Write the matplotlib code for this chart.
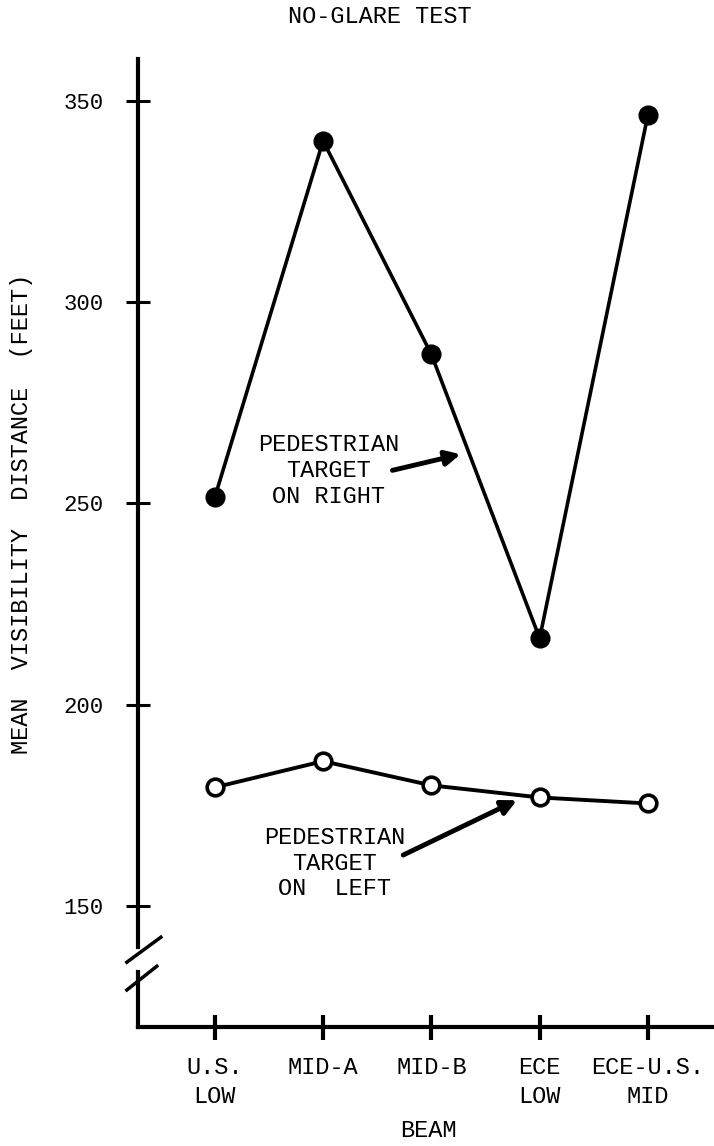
import matplotlib
matplotlib.use("Agg")
import matplotlib.pyplot as plt

plt.rcParams['font.family'] = ['Liberation Mono', 'DejaVu Sans Mono']

# data
beams = ["U.S.\nLOW", "MID-A", "MID-B", "ECE\nLOW", "ECE-U.S.\nMID"]
right_target = [251.5, 340, 287, 216.5, 346.5]
left_target = [179.5, 186, 180, 177, 175.5]
y_ticks = [150, 200, 250, 300, 350]

x = list(range(len(beams)))

fig = plt.figure(figsize=(7.14, 11.46), dpi=100)
ax = fig.add_axes([0.193, 0.1038, 0.807, 0.845])

# pedestrian on right (filled)
ax.plot(x, right_target, color="black", lw=2.6, marker="o", ms=13.5,
        mfc="black", mec="black", zorder=3)
# pedestrian on left (open)
ax.plot(x, left_target, color="black", lw=2.8, marker="o", ms=12,
        mfc="white", mec="black", mew=2.6, zorder=3)

ax.set_xlim(-0.711, 4.61)
ax.set_ylim(120, 360.4)

ax.set_xticks(x)
ax.set_xticklabels(beams, fontsize=17, linespacing=1.3)
ax.set_yticks(y_ticks)
ax.set_yticklabels([str(v) for v in y_ticks], fontsize=16)
ax.tick_params(axis="y", direction="inout", length=17, width=2.2, pad=16)
ax.tick_params(axis="x", direction="inout", length=18, width=3, pad=12)

for s in ["top", "right", "left"]:
    ax.spines[s].set_visible(False)
ax.spines["bottom"].set_linewidth(3)

# left axis with a break near the bottom
tr = ax.get_yaxis_transform()
ax.plot([0, 0], [139.8, 360.4], color="black", lw=3, transform=tr, clip_on=False)
ax.plot([0, 0], [120, 133.6], color="black", lw=3, transform=tr, clip_on=False)
ax.plot([-0.019, 0.04], [136.1, 142.3], color="black", lw=2.5, transform=tr, clip_on=False)
ax.plot([-0.019, 0.033], [129.2, 135.1], color="black", lw=2.5, transform=tr, clip_on=False)

ax.set_ylabel("MEAN  VISIBILITY  DISTANCE  (FEET)", fontsize=17)
ax.yaxis.set_label_coords(-0.182, 0.53)
ax.set_xlabel("BEAM", fontsize=17)
ax.xaxis.set_label_coords(0.505, -0.095)
fig.suptitle("NO-GLARE TEST", fontsize=17, x=0.532, y=0.996)

ax.text(1.05, 258.2, "PEDESTRIAN\nTARGET\nON RIGHT", fontsize=17,
        ha="center", va="center", linespacing=1.15)
ax.annotate("", xy=(2.27, 262.2), xytext=(1.64, 258.2),
            arrowprops=dict(arrowstyle="-|>", color="black", lw=3.5,
                            mutation_scale=22, shrinkA=0, shrinkB=0))
ax.text(1.11, 160.7, "PEDESTRIAN\nTARGET\nON  LEFT", fontsize=17,
        ha="center", va="center", linespacing=1.15)
ax.annotate("", xy=(2.79, 176.3), xytext=(1.74, 162.7),
            arrowprops=dict(arrowstyle="-|>", color="black", lw=3.5,
                            mutation_scale=22, shrinkA=0, shrinkB=0))

fig.savefig("out.png", dpi=100)
